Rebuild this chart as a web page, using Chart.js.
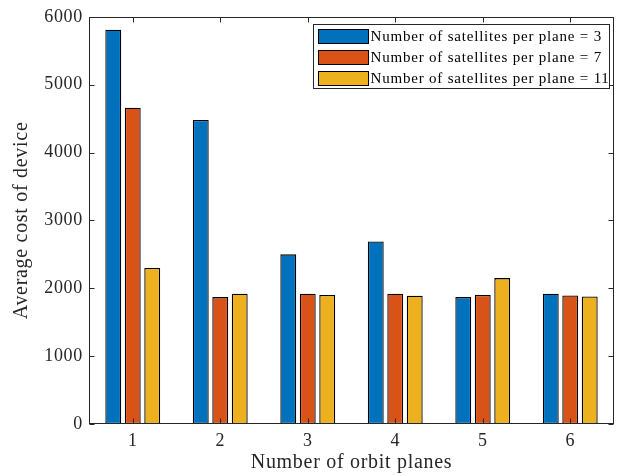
<!DOCTYPE html>
<html>
<head>
<meta charset="utf-8">
<script src="https://cdn.jsdelivr.net/npm/chart.js@4.4.1/dist/chart.umd.min.js"></script>
<style>
  html, body { margin: 0; padding: 0; background: #fff; }
  #wrap { width: 624px; height: 476px; }
</style>
</head>
<body>
<div id="wrap"><canvas id="c" width="624" height="476"></canvas></div>
<script>
// Number of orbit planes
const categories = ['1', '2', '3', '4', '5', '6'];

// Average cost of device per configuration
const costSat3  = [5810, 4480, 2500, 2690, 1870, 1920];
const costSat7  = [4660, 1870, 1920, 1920, 1900, 1895];
const costSat11 = [2300, 1920, 1900, 1890, 2150, 1880];

const seriesLabels = [
  'Number of satellites per plane = 3',
  'Number of satellites per plane = 7',
  'Number of satellites per plane = 11'
];
const yTicks = [0, 1000, 2000, 3000, 4000, 5000, 6000];

const colors = ['#0072BD', '#D95319', '#EDB120'];
const axisColor = '#262626';
const fontFamily = '"Liberation Serif", "Times New Roman", serif';
const letterSpacing = '0.7px';

// Slightly loose serif lettering for all text on the canvas
const spacingPlugin = {
  id: 'spacing',
  beforeUpdate(chart) { chart.ctx.letterSpacing = letterSpacing; },
  beforeDraw(chart) { chart.ctx.letterSpacing = letterSpacing; }
};

// Box outline with inward ticks on all four sides, plus an in-plot legend
const boxPlugin = {
  id: 'boxAxes',
  afterDraw(chart) {
    const { ctx, chartArea: a, scales } = chart;
    const L = Math.round(a.left) + 0.5, R = Math.round(a.right) - 0.5;
    const T = Math.round(a.top) + 0.5, B = Math.round(a.bottom) - 0.5;
    ctx.save();
    ctx.strokeStyle = axisColor;
    ctx.lineWidth = 1;
    ctx.strokeRect(L, T, R - L, B - T);
    const tl = 5;
    ctx.beginPath();
    scales.y.ticks.forEach(t => {
      const y = Math.round(scales.y.getPixelForValue(t.value)) + 0.5;
      ctx.moveTo(L, y); ctx.lineTo(L + tl, y);
      ctx.moveTo(R, y); ctx.lineTo(R - tl, y);
    });
    categories.forEach((c, i) => {
      const x = Math.round(scales.x.getPixelForValue(i)) + 0.5;
      ctx.moveTo(x, B); ctx.lineTo(x, B - tl);
      ctx.moveTo(x, T); ctx.lineTo(x, T + tl);
    });
    ctx.stroke();

    // legend
    const lx = 313.5, ly = 24.5, lw = 296, lh = 64;
    ctx.fillStyle = '#fff';
    ctx.fillRect(lx, ly, lw, lh);
    ctx.strokeStyle = axisColor;
    ctx.strokeRect(lx, ly, lw, lh);
    ctx.letterSpacing = '0.8px';
    ctx.font = '15px ' + fontFamily;
    ctx.textBaseline = 'middle';
    ctx.textAlign = 'left';
    chart.data.datasets.forEach((ds, i) => {
      const cy = ly + 12 + i * 21;
      ctx.fillStyle = ds.backgroundColor;
      ctx.fillRect(lx + 5, cy - 7, 50, 14);
      ctx.strokeStyle = '#000';
      ctx.strokeRect(lx + 5, cy - 7, 50, 14);
      ctx.fillStyle = '#000';
      ctx.fillText(ds.label, lx + 57, cy + 1);
    });
    ctx.restore();
  }
};

const datasets = [costSat3, costSat7, costSat11].map((vals, i) => ({
  label: seriesLabels[i],
  data: vals,
  backgroundColor: colors[i],
  borderColor: '#000',
  borderWidth: 1.3,
  borderSkipped: false,
  categoryPercentage: 0.668,
  barPercentage: 0.816
}));

new Chart(document.getElementById('c'), {
  type: 'bar',
  data: { labels: categories, datasets },
  plugins: [spacingPlugin, boxPlugin],
  options: {
    responsive: false,
    animation: false,
    devicePixelRatio: 1,
    layout: { padding: { top: 12, right: 10, left: 0, bottom: 0 } },
    plugins: { legend: { display: false }, tooltip: { enabled: false } },
    scales: {
      x: {
        grid: { display: false, drawTicks: false },
        border: { display: false },
        ticks: { color: axisColor, font: { family: fontFamily, size: 18 }, padding: 6, maxRotation: 0 },
        title: { display: true, text: 'Number of orbit planes', color: axisColor,
                 font: { family: fontFamily, size: 20 }, padding: { top: 0, bottom: 1 } },
        afterFit: s => { s.height = 52; }
      },
      y: {
        min: 0, max: 6000,
        afterBuildTicks: s => { s.ticks = yTicks.map(v => ({ value: v })); },
        grid: { display: false, drawTicks: false },
        border: { display: false },
        ticks: { color: axisColor, font: { family: fontFamily, size: 18 }, padding: 6,
                 callback: v => String(v) },
        title: { display: true, text: 'Average cost of device', color: axisColor,
                 font: { family: fontFamily, size: 20 }, padding: { top: 10, bottom: 0 } },
        afterFit: s => { s.width = 89; }
      }
    }
  }
});
</script>
</body>
</html>
